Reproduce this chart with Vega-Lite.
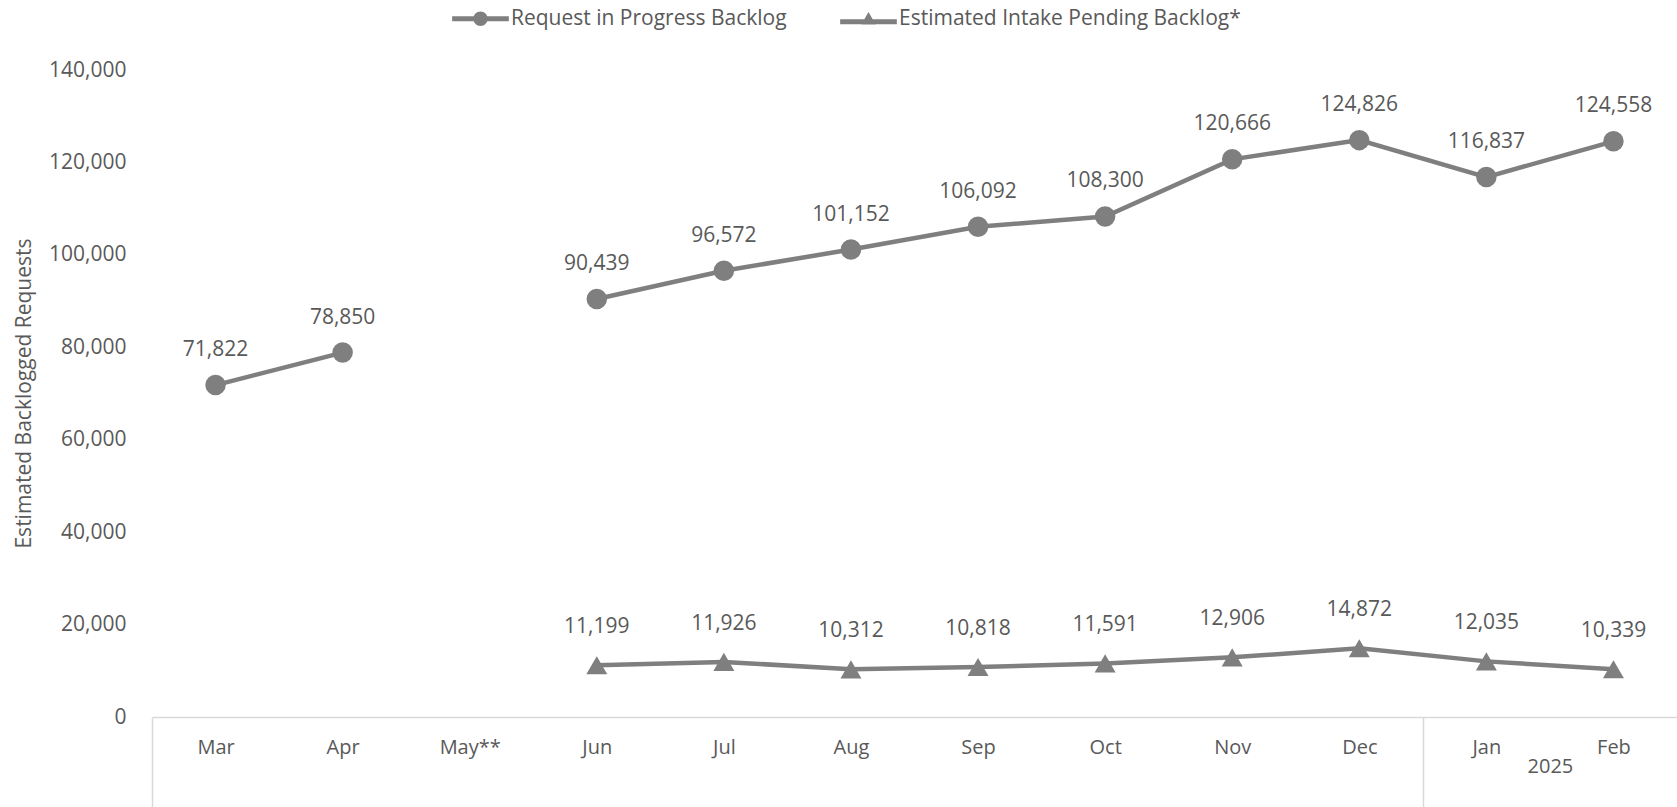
{
  "$schema": "https://vega.github.io/schema/vega-lite/v6.json",
  "autosize": {"type": "none"},
  "width": 1525,
  "height": 647,
  "padding": {"left": 152, "top": 70, "right": 0, "bottom": 90},
  "background": "white",
  "config": {
    "view": {"stroke": null},
    "font": "Open Sans",
    "axis": {"labelFont": "Open Sans", "titleFont": "Open Sans", "labelColor": "#595959", "titleColor": "#595959", "titleFontWeight": "normal", "grid": false},
    "legend": {"labelFont": "Open Sans"}
  },
  "data": {
    "values": [
      {"idx": 1, "month": "Mar", "series": "Request in Progress Backlog", "value": 71822},
      {"idx": 2, "month": "Apr", "series": "Request in Progress Backlog", "value": 78850},
      {"idx": 3, "month": "May**", "series": "Request in Progress Backlog", "value": null},
      {"idx": 4, "month": "Jun", "series": "Request in Progress Backlog", "value": 90439},
      {"idx": 5, "month": "Jul", "series": "Request in Progress Backlog", "value": 96572},
      {"idx": 6, "month": "Aug", "series": "Request in Progress Backlog", "value": 101152},
      {"idx": 7, "month": "Sep", "series": "Request in Progress Backlog", "value": 106092},
      {"idx": 8, "month": "Oct", "series": "Request in Progress Backlog", "value": 108300},
      {"idx": 9, "month": "Nov", "series": "Request in Progress Backlog", "value": 120666},
      {"idx": 10, "month": "Dec", "series": "Request in Progress Backlog", "value": 124826},
      {"idx": 11, "month": "Jan", "series": "Request in Progress Backlog", "value": 116837},
      {"idx": 12, "month": "Feb", "series": "Request in Progress Backlog", "value": 124558},
      {"idx": 4, "month": "Jun", "series": "Estimated Intake Pending Backlog*", "value": 11199},
      {"idx": 5, "month": "Jul", "series": "Estimated Intake Pending Backlog*", "value": 11926},
      {"idx": 6, "month": "Aug", "series": "Estimated Intake Pending Backlog*", "value": 10312},
      {"idx": 7, "month": "Sep", "series": "Estimated Intake Pending Backlog*", "value": 10818},
      {"idx": 8, "month": "Oct", "series": "Estimated Intake Pending Backlog*", "value": 11591},
      {"idx": 9, "month": "Nov", "series": "Estimated Intake Pending Backlog*", "value": 12906},
      {"idx": 10, "month": "Dec", "series": "Estimated Intake Pending Backlog*", "value": 14872},
      {"idx": 11, "month": "Jan", "series": "Estimated Intake Pending Backlog*", "value": 12035},
      {"idx": 12, "month": "Feb", "series": "Estimated Intake Pending Backlog*", "value": 10339}
    ]
  },
  "encoding": {
    "y": {
      "field": "value", "type": "quantitative",
      "scale": {"domain": [0, 140000], "nice": false},
      "axis": {"title": "Estimated Backlogged Requests", "values": [0,20000,40000,60000,80000,100000,120000,140000], "format": ",.0f", "grid": false, "domain": false, "ticks": false, "labelFontSize": 21, "labelPadding": 26, "titleFontSize": 21, "titleX": -128, "titleY": 323, "titleAngle": -90, "titleAlign": "center", "titleBaseline": "middle"}
    }
  },
  "resolve": {"axis": {"x": "independent"}},
  "layer": [
    {
      "mark": {"type": "line", "color": "#7f7f7f", "strokeWidth": 4.5},
      "encoding": {
        "x": {
          "field": "month", "type": "ordinal",
          "sort": ["Mar","Apr","May**","Jun","Jul","Aug","Sep","Oct","Nov","Dec","Jan","Feb"],
          "scale": {"domain": ["Mar","Apr","May**","Jun","Jul","Aug","Sep","Oct","Nov","Dec","Jan","Feb"], "paddingInner": 0, "paddingOuter": 0},
          "axis": {"orient": "bottom", "title": null, "labelAngle": 0, "labelFontSize": 20, "labelPadding": 20, "ticks": false, "domain": true, "domainColor": "#d9d9d9", "domainWidth": 1.5, "grid": false}
        },
        "detail": {"field": "series"},
        "order": {"field": "idx"}
      }
    },
    {
      "transform": [{"filter": "datum.value != null && datum.series == 'Request in Progress Backlog'"}],
      "mark": {"type": "point", "filled": true, "opacity": 1, "color": "#7f7f7f", "size": 420, "shape": "circle"},
      "encoding": {
        "x": {
          "field": "month", "type": "ordinal",
          "sort": ["Mar","Apr","May**","Jun","Jul","Aug","Sep","Oct","Nov","Dec","Jan","Feb"],
          "axis": {"orient": "bottom", "title": null, "values": ["Mar", "Jan"], "tickOffset": -63.54, "ticks": true, "tickSize": 90, "tickColor": "#d9d9d9", "tickWidth": 1.5, "domain": false, "grid": false, "labelAngle": 0, "labelFontSize": 20, "labelExpr": "datum.value == 'Jan' ? '2025' : ''", "labelOffset": 127.1, "labelPadding": -51, "labelAlign": "center"}
        }
      }
    },
    {
      "transform": [{"filter": "datum.value != null && datum.series != 'Request in Progress Backlog'"}],
      "mark": {"type": "point", "filled": true, "opacity": 1, "color": "#7f7f7f", "size": 440, "shape": "triangle-up"},
      "encoding": {
        "x": {"field": "month", "type": "ordinal", "sort": ["Mar","Apr","May**","Jun","Jul","Aug","Sep","Oct","Nov","Dec","Jan","Feb"], "axis": null}
      }
    },
    {
      "transform": [{"filter": "datum.value != null"}],
      "mark": {"type": "point", "filled": true, "opacity": 0, "color": "#7f7f7f", "size": 81},
      "encoding": {
        "x": {"field": "month", "type": "ordinal", "sort": ["Mar","Apr","May**","Jun","Jul","Aug","Sep","Oct","Nov","Dec","Jan","Feb"], "axis": null},
        "shape": {
          "field": "series", "type": "nominal",
          "scale": {"domain": ["Request in Progress Backlog", "Estimated Intake Pending Backlog*"], "range": ["M-6.3,-0.55H6.3V0.55H-6.3Z M1.6,0A1.6,1.6,0,1,1,-1.6,0A1.6,1.6,0,1,1,1.6,0Z", "M-6.3,0.1H6.3V1.2H-6.3Z M0,-1.5L1.6,1.3L-1.6,1.3Z"]},
          "legend": {"title": null, "orient": "none", "legendX": 318, "legendY": -62, "direction": "horizontal", "labelFontSize": 21, "labelColor": "#595959", "labelLimit": 0, "symbolSize": 81, "symbolStrokeWidth": 0, "symbolFillColor": "#7f7f7f", "symbolOpacity": 1, "labelOffset": 20, "columnPadding": 53}
        }
      }
    },
    {
      "transform": [{"filter": "datum.value != null && datum.series == 'Request in Progress Backlog'"}],
      "mark": {"type": "text", "dy": -35, "fontSize": 21, "color": "#595959", "font": "Open Sans"},
      "encoding": {
        "x": {"field": "month", "type": "ordinal", "sort": ["Mar","Apr","May**","Jun","Jul","Aug","Sep","Oct","Nov","Dec","Jan","Feb"], "axis": null},
        "text": {"field": "value", "type": "quantitative", "format": ","}
      }
    },
    {
      "transform": [{"filter": "datum.value != null && datum.series != 'Request in Progress Backlog'"}],
      "mark": {"type": "text", "dy": -38, "fontSize": 21, "color": "#595959", "font": "Open Sans"},
      "encoding": {
        "x": {"field": "month", "type": "ordinal", "sort": ["Mar","Apr","May**","Jun","Jul","Aug","Sep","Oct","Nov","Dec","Jan","Feb"], "axis": null},
        "text": {"field": "value", "type": "quantitative", "format": ","}
      }
    }
  ]
}
